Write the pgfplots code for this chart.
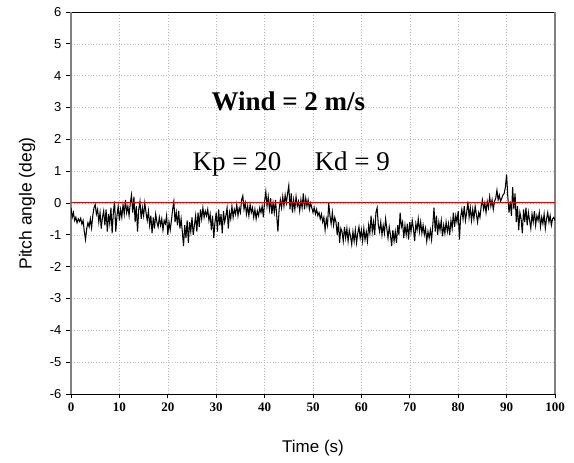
\documentclass[border=0pt]{standalone}
\usepackage{pgfplots}
\pgfplotsset{compat=1.18}
\usepackage{fontspec}
\setmainfont{Liberation Serif}
\newfontfamily\arialf{Liberation Sans}
\definecolor{zeroRed}{RGB}{230,0,0}
\begin{document}
\begin{tikzpicture}
\path[use as bounding box] (0,0) rectangle (574pt,463pt);
\begin{axis}[
  at={(71pt,69pt)}, anchor=south west,
  scale only axis, width=484pt, height=382pt,
  xmin=0, xmax=100, ymin=-6, ymax=6,
  xtick={0,10,...,100}, ytick={-6,-5,...,6},
  grid=major,
  major grid style={gray!55, line width=0.6pt, dash pattern=on 0.8pt off 2pt},
  separate axis lines,
  x axis line style={black, line width=0.9pt},
  y axis line style={black!50, line width=1.1pt},
  tick align=outside, xtick pos=bottom, ytick pos=left,
  major tick length=4.5pt,
  tick style={black, line width=0.8pt},
  /pgf/number format/assume math mode=true,
  yticklabel style={font=\arialf\fontsize{13}{15}\selectfont, xshift=-1.5pt},
  xticklabel style={font=\bfseries\fontsize{13}{15}\selectfont, yshift=-1pt},
  clip=true,
]
\addplot[black, line width=1.05pt] coordinates {
(0,-0.15)(0.25,-0.45)(0.5,-0.3)(0.75,-0.55)
(1,-0.45)(1.25,-0.62)(1.5,-0.5)(1.75,-0.58)
(2,-0.48)(2.25,-0.66)(2.5,-0.55)(2.75,-0.9)
(3,-1.15)(3.25,-0.8)(3.5,-0.62)(3.75,-0.75)
(4,-0.5)(4.25,-0.78)(4.5,-0.4)(4.75,-0.15)
(5,-0.05)(5.25,-0.35)(5.5,-0.2)(5.75,-0.6)
(6,-0.3)(6.25,-0.8)(6.5,-0.45)(6.75,-0.25)
(7,-0.7)(7.25,-0.2)(7.5,-0.9)(7.75,-0.35)
(8,-0.65)(8.25,-0.15)(8.5,-0.95)(8.75,-0.3)
(9,0.05)(9.25,-0.9)(9.5,-0.4)(9.75,-0.1)
(10,-0.55)(10.25,-0.2)(10.5,-0.45)(10.75,-0.05)
(11,-0.35)(11.25,0.1)(11.5,-0.3)(11.75,-0.1)
(12,-0.4)(12.25,0.0)(12.5,0.25)(12.75,-0.3)
(13,0.2)(13.25,-0.6)(13.5,-0.1)(13.75,-0.9)
(14,-0.2)(14.25,0.05)(14.5,-0.5)(14.75,-0.15)
(15,-0.4)(15.25,0.0)(15.5,-0.3)(15.75,-0.55)
(16,-0.25)(16.25,-0.7)(16.5,-0.4)(16.75,-0.95)
(17,-0.45)(17.25,-0.8)(17.5,-0.35)(17.75,-0.6)
(18,-0.75)(18.25,-0.45)(18.5,-0.7)(18.75,-0.5)
(19,-0.85)(19.25,-0.55)(19.5,-0.65)(19.75,-0.4)
(20,-1.0)(20.25,-0.6)(20.5,-0.85)(20.75,-0.55)
(21,-0.2)(21.25,0.05)(21.5,-0.6)(21.75,-0.3)
(22,-0.7)(22.25,-0.25)(22.5,-0.8)(22.75,-0.5)
(23,-0.9)(23.25,-1.35)(23.5,-0.7)(23.75,-1.1)
(24,-0.55)(24.25,-1.25)(24.5,-0.6)(24.75,-0.9)
(25,-0.45)(25.25,-1.0)(25.5,-0.7)(25.75,-0.4)
(26,-0.9)(26.25,-0.3)(26.5,-0.75)(26.75,-0.2)
(27,-0.5)(27.25,-0.15)(27.5,-0.45)(27.75,-0.25)
(28,-0.4)(28.25,-0.2)(28.5,-0.55)(28.75,-0.35)
(29,-0.85)(29.25,-0.4)(29.5,-1.1)(29.75,-0.6)
(30,-0.3)(30.25,-0.9)(30.5,-0.2)(30.75,-0.7)
(31,-0.35)(31.25,-0.95)(31.5,-0.25)(31.75,-0.6)
(32,-0.4)(32.25,-0.15)(32.5,-0.8)(32.75,-0.3)
(33,-0.5)(33.25,-0.1)(33.5,-0.45)(33.75,-0.2)
(34,-0.35)(34.25,-0.05)(34.5,-0.4)(34.75,-0.15)
(35,-0.3)(35.25,0.1)(35.5,0.23)(35.75,-0.2)
(36,0.0)(36.25,-0.35)(36.5,-0.1)(36.75,-0.4)
(37,-0.05)(37.25,-0.3)(37.5,-0.15)(37.75,-0.45)
(38,-0.2)(38.25,-0.5)(38.5,-0.25)(38.75,-0.4)
(39,-0.15)(39.25,-0.3)(39.5,-0.1)(39.75,-0.45)
(40,0.05)(40.25,0.36)(40.5,-0.1)(40.75,0.2)
(41,-0.2)(41.25,0.15)(41.5,-0.35)(41.75,0.0)
(42,-0.3)(42.25,0.1)(42.5,-0.4)(42.75,-0.9)
(43,-0.2)(43.25,0.1)(43.5,-0.15)(43.75,0.2)
(44,-0.1)(44.25,0.25)(44.5,0.0)(44.75,0.3)
(45,0.55)(45.25,-0.2)(45.5,0.3)(45.75,-0.3)
(46,0.1)(46.25,-0.2)(46.5,0.2)(46.75,-0.1)
(47,0.05)(47.25,-0.25)(47.5,0.1)(47.75,-0.15)
(48,0.3)(48.25,-0.2)(48.5,0.15)(48.75,-0.1)
(49,0.1)(49.25,-0.2)(49.5,0.0)(49.75,-0.15)
(50,-0.3)(50.25,-0.15)(50.5,-0.35)(50.75,-0.2)
(51,-0.4)(51.25,-0.3)(51.5,-0.5)(51.75,-0.35)
(52,-0.6)(52.25,-0.45)(52.5,-0.85)(52.75,-0.5)
(53,-0.7)(53.25,0.0)(53.5,-0.4)(53.75,-0.65)
(54,-0.3)(54.25,-0.7)(54.5,-0.45)(54.75,-0.6)
(55,-1.0)(55.25,-0.6)(55.5,-1.25)(55.75,-0.8)
(56,-0.9)(56.25,-1.2)(56.5,-0.75)(56.75,-1.1)
(57,-0.8)(57.25,-1.2)(57.5,-0.85)(57.75,-1.05)
(58,-1.3)(58.25,-0.9)(58.5,-1.2)(58.75,-0.85)
(59,-1.25)(59.25,-0.95)(59.5,-0.75)(59.75,-1.1)
(60,-0.85)(60.25,-1.2)(60.5,-0.8)(60.75,-1.15)
(61,-0.9)(61.25,-1.2)(61.5,-0.7)(61.75,-0.95)
(62,-0.4)(62.25,-0.9)(62.5,-0.6)(62.75,-1.0)
(63,-0.3)(63.25,-0.15)(63.5,-0.7)(63.75,-0.9)
(64,-0.6)(64.25,-1.0)(64.5,-0.7)(64.75,-0.95)
(65,-0.5)(65.25,-0.8)(65.5,-1.1)(65.75,-0.75)
(66,-1.0)(66.25,-1.35)(66.5,-0.85)(66.75,-1.2)
(67,-0.9)(67.25,-1.25)(67.5,-0.7)(67.75,-1.0)
(68,-0.3)(68.25,-0.75)(68.5,-0.6)(68.75,-1.1)
(69,-0.7)(69.25,-1.0)(69.5,-0.65)(69.75,-1.15)
(70,-0.6)(70.25,-0.9)(70.5,-0.55)(70.75,-0.8)
(71,-1.2)(71.25,-0.65)(71.5,-0.85)(71.75,-0.5)
(72,-0.9)(72.25,-0.6)(72.5,-0.95)(72.75,-0.7)
(73,-1.0)(73.25,-0.8)(73.5,-1.2)(73.75,-0.9)
(74,-1.1)(74.25,-0.85)(74.5,-1.15)(74.75,-0.7)
(75,-0.15)(75.25,-0.9)(75.5,-0.4)(75.75,-1.0)
(76,-0.6)(76.25,-0.85)(76.5,-0.55)(76.75,-1.05)
(77,-0.7)(77.25,-0.95)(77.5,-0.6)(77.75,-0.9)
(78,-0.65)(78.25,-1.0)(78.5,-0.55)(78.75,-0.8)
(79,-0.3)(79.25,-0.75)(79.5,-0.4)(79.75,-0.6)
(80,-0.25)(80.25,-1.15)(80.5,-0.45)(80.75,-0.2)
(81,-0.5)(81.25,-0.1)(81.5,-0.55)(81.75,-0.3)
(82,0.05)(82.25,-0.45)(82.5,-0.15)(82.75,-0.55)
(83,-0.2)(83.25,-0.5)(83.5,-0.1)(83.75,-0.35)
(84,-0.6)(84.25,-0.3)(84.5,-0.45)(84.75,-0.1)
(85,0.1)(85.25,-0.2)(85.5,0.0)(85.75,-0.3)
(86,0.05)(86.25,-0.15)(86.5,0.2)(86.75,-0.1)
(87,0.1)(87.25,-0.2)(87.5,0.05)(87.75,0.15)
(88,0.4)(88.25,0.1)(88.5,0.25)(88.75,0.05)
(89,0.15)(89.25,0.25)(89.5,0.3)(89.75,0.5)
(90,0.9)(90.25,0.2)(90.5,-0.3)(90.75,0.05)
(91,-0.4)(91.25,0.5)(91.5,-0.2)(91.75,0.3)
(92,-0.6)(92.25,-0.1)(92.5,-0.85)(92.75,-0.3)
(93,-0.5)(93.25,-0.95)(93.5,-0.2)(93.75,-0.6)
(94,-0.15)(94.25,-0.7)(94.5,-0.3)(94.75,-0.55)
(95,-0.8)(95.25,-0.35)(95.5,-0.6)(95.75,-0.25)
(96,-0.7)(96.25,-0.4)(96.5,-0.55)(96.75,-0.3)
(97,-0.75)(97.25,-0.45)(97.5,-0.65)(97.75,-0.35)
(98,-0.8)(98.25,-0.5)(98.5,-0.3)(98.75,-0.6)
(99,-0.4)(99.25,-0.7)(99.5,-0.5)(99.75,-0.45)
(100,-0.55)
};
\addplot[color=zeroRed, line width=1pt] coordinates {(0,0) (100,0)};
\node[anchor=base west, inner sep=0pt, font=\bfseries\fontsize{27}{30}\selectfont] at (axis cs:29.0,2.92) {Wind = 2 m/s};
\node[anchor=base west, inner sep=0pt, font=\fontsize{27}{30}\selectfont] at (axis cs:25.1,1.03) {Kp = 20};
\node[anchor=base west, inner sep=0pt, font=\fontsize{27}{30}\selectfont] at (axis cs:50.3,1.03) {Kd = 9};
\end{axis}
\node[font=\arialf\fontsize{17}{20}\selectfont] at (313pt,15pt) {Time (s)};
\node[rotate=90, font=\arialf\fontsize{17.5}{20}\selectfont] at (27pt,259.5pt) {Pitch angle (deg)};
\end{tikzpicture}
\end{document}
